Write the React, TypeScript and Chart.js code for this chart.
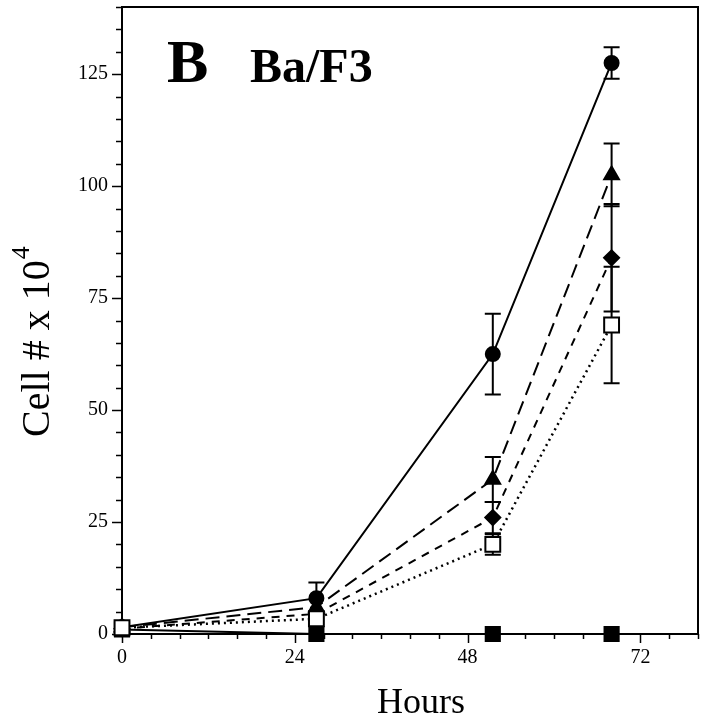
import { useEffect, useRef } from "react";
import { Chart, registerables } from "chart.js";

Chart.register(...registerables);

// ---- data ----
const hours = [0, 27, 51.5, 68];
const circleVals = [1.5, 8, 62.5, 127.5];
const circleErr = [0, 3.5, 9, 3.5];
const triangleVals = [1.5, 6, 34.5, 102.5];
const triangleErr = [0, 0, 5, 7];
const diamondVals = [1.2, 4.5, 26, 84];
const diamondErr = [0, 0, 3.5, 12];
const openSquareVals = [1.4, 3.4, 20, 69];
const openSquareErr = [0, 0, 2.3, 13];
const filledSquareVals = [1, 0, 0, 0];
const yTickLabels = [0, 25, 50, 75, 100, 125];
const xTickLabels = [0, 24, 48, 72];
const panelLetter = "B";
const panelName = "Ba/F3";
const yTitle = "Cell # x 10";
const yTitleSup = "4";
const xTitle = "Hours";

const SERIF = '"Liberation Serif", "Times New Roman", serif';

const pts = (vals: number[]) => hours.map((x, i) => ({ x, y: vals[i] }));

const errorSets = [
  { vals: circleVals, err: circleErr },
  { vals: triangleVals, err: triangleErr },
  { vals: diamondVals, err: diamondErr },
  { vals: openSquareVals, err: openSquareErr },
];

const decor = {
  id: "decor",
  beforeDatasetsDraw(chart: any) {
    const { ctx, chartArea: a, scales } = chart;
    const xs = scales.x;
    const ys = scales.y;
    ctx.save();
    ctx.strokeStyle = "#000";
    ctx.lineWidth = 2;
    ctx.strokeRect(a.left, a.top, a.right - a.left, a.bottom - a.top);
    ctx.lineWidth = 1.5;
    ys.ticks.forEach((t: any) => {
      const p = Math.round(ys.getPixelForValue(t.value)) + 0.5;
      const len = yTickLabels.includes(t.value) ? 10 : 6;
      ctx.beginPath();
      ctx.moveTo(a.left - len, p);
      ctx.lineTo(a.left, p);
      ctx.stroke();
    });
    xs.ticks.forEach((t: any) => {
      const p = Math.round(xs.getPixelForValue(t.value)) + 0.5;
      const len = xTickLabels.includes(t.value) ? 9 : 5;
      ctx.beginPath();
      ctx.moveTo(p, a.bottom);
      ctx.lineTo(p, a.bottom + len);
      ctx.stroke();
    });
    // error bars
    ctx.lineWidth = 2;
    errorSets.forEach(({ vals, err }) => {
      hours.forEach((h, i) => {
        if (!err[i]) return;
        const px = xs.getPixelForValue(h);
        const top = ys.getPixelForValue(vals[i] + err[i]);
        const bot = ys.getPixelForValue(vals[i] - err[i]);
        ctx.beginPath();
        ctx.moveTo(px, top);
        ctx.lineTo(px, bot);
        ctx.moveTo(px - 8, top);
        ctx.lineTo(px + 8, top);
        ctx.moveTo(px - 8, bot);
        ctx.lineTo(px + 8, bot);
        ctx.stroke();
      });
    });
    ctx.restore();
  },
  afterDraw(chart: any) {
    const { ctx } = chart;
    ctx.save();
    ctx.fillStyle = "#000";
    ctx.textBaseline = "alphabetic";
    ctx.textAlign = "left";
    ctx.font = `bold 62px ${SERIF}`;
    ctx.fillText(panelLetter, 167, 82);
    ctx.font = `bold 48px ${SERIF}`;
    ctx.fillText(panelName, 250, 82);
    // x title
    ctx.font = `36px ${SERIF}`;
    ctx.textAlign = "center";
    ctx.fillText(xTitle, 421, 713);
    // y title
    ctx.save();
    ctx.translate(49, 437);
    ctx.rotate(-Math.PI / 2);
    ctx.textAlign = "left";
    ctx.font = `40px ${SERIF}`;
    ctx.fillText(yTitle, 0, 0);
    const w = ctx.measureText(yTitle).width;
    ctx.font = `26px ${SERIF}`;
    ctx.fillText(yTitleSup, w + 1, -20);
    ctx.restore();
    ctx.restore();
  },
};

const zeroPad = (s: any) => {
  s.paddingTop = 0;
  s.paddingBottom = 0;
  s.paddingLeft = 0;
  s.paddingRight = 0;
};

export default function App() {
  const ref = useRef<HTMLCanvasElement | null>(null);
  useEffect(() => {
    if (!ref.current) return;
    const common = {
      borderColor: "#000",
      borderWidth: 2,
      pointBorderColor: "#000",
      pointBorderWidth: 2,
      clip: false as any,
      tension: 0,
      fill: false,
    };
    const chart = new Chart(ref.current, {
      type: "line",
      data: {
        datasets: [
          {
            ...common,
            label: "open square",
            data: pts(openSquareVals),
            borderDash: [2, 4],
            borderWidth: 2.5,
            pointStyle: "rect",
            pointRadius: 10.5,
            pointBackgroundColor: "#fff",
            order: 0,
          },
          {
            ...common,
            label: "diamond",
            data: pts(diamondVals),
            borderDash: [8, 7],
            pointStyle: "rectRot",
            pointRadius: 7.5,
            pointBackgroundColor: "#000",
            order: 1,
          },
          {
            ...common,
            label: "triangle",
            data: pts(triangleVals),
            borderDash: [14, 7],
            pointStyle: "triangle",
            pointRadius: 8.5,
            pointBackgroundColor: "#000",
            order: 2,
          },
          {
            ...common,
            label: "circle",
            data: pts(circleVals),
            pointStyle: "circle",
            pointRadius: 7,
            pointBackgroundColor: "#000",
            order: 3,
          },
          {
            ...common,
            label: "filled square",
            data: pts(filledSquareVals),
            pointStyle: "rect",
            pointRadius: 10,
            pointBackgroundColor: "#000",
            order: 4,
          },
        ],
      },
      options: {
        animation: false,
        responsive: false,
        devicePixelRatio: 1,
        layout: { autoPadding: false, padding: { top: 7, right: 8, left: 0, bottom: 0 } },
        plugins: { legend: { display: false }, tooltip: { enabled: false } },
        scales: {
          x: {
            type: "linear",
            min: 0,
            max: 80,
            grid: { display: false, drawTicks: false },
            border: { display: false },
            ticks: {
              stepSize: 4,
              autoSkip: false,
              maxRotation: 0,
              padding: 12,
              color: "#000",
              font: { family: SERIF, size: 20 },
              callback: (v: any) => (xTickLabels.includes(Number(v)) ? String(v) : ""),
            },
            afterFit: (s: any) => {
              s.height = 86;
              zeroPad(s);
            },
          },
          y: {
            type: "linear",
            min: 0,
            max: 140,
            grid: { display: false, drawTicks: false },
            border: { display: false },
            ticks: {
              stepSize: 5,
              autoSkip: false,
              padding: 14,
              color: "#000",
              font: { family: SERIF, size: 20 },
              callback: (v: any) => (yTickLabels.includes(Number(v)) ? String(v) : ""),
            },
            afterFit: (s: any) => {
              s.width = 122;
              zeroPad(s);
            },
          },
        },
      },
      plugins: [decor],
    });
    return () => chart.destroy();
  }, []);
  return (
    <div style={{ position: "fixed", left: 0, top: 0, width: 706, height: 720, background: "#fff" }}>
      <canvas ref={ref} width={706} height={720} style={{ display: "block" }} />
    </div>
  );
}
